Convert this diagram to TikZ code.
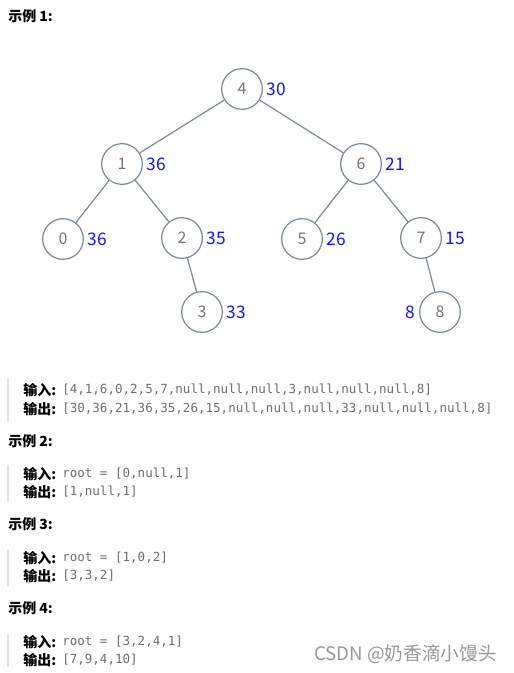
\documentclass[tikz,border=0pt]{standalone}
\usepackage{fontspec}
\setmainfont{Noto Sans CJK SC}
\setmonofont{DejaVu Sans Mono}
\usetikzlibrary{positioning}

\definecolor{edgecol}{RGB}{120,136,148}
\definecolor{numgray}{RGB}{115,115,115}
\definecolor{valblue}{RGB}{20,20,245}
\definecolor{codegray}{RGB}{108,108,118}
\definecolor{barcol}{RGB}{226,226,226}
\definecolor{markgray}{RGB}{150,150,150}

\tikzset{
	treenode/.style = {circle, draw = edgecol, line width = 0.9pt, minimum size = 30.5pt,
		inner sep = 0pt, text = numgray, font = \fontsize{12}{14}\selectfont},
	valtext/.style = {inner sep = 0pt, text = valblue, font = \fontsize{13}{15}\selectfont},
	edge/.style = {draw = edgecol, line width = 0.9pt},
	headtext/.style = {anchor = west, inner sep = 0pt, font = \fontsize{10.5}{12}\bfseries},
	keytext/.style = {anchor = west, inner sep = 0pt, font = \fontsize{10.5}{12}\bfseries},
	codetext/.style = {anchor = west, inner sep = 0pt, text = codegray, font = \fontsize{9.4}{11}\ttfamily},
	quotebar/.style = {draw = barcol, line width = 1.5pt}
}

\begin{document}
\begin{tikzpicture}[x = 0.75pt, y = -0.75pt]

	\useasboundingbox (0,0) rectangle (513,673);

	% example 1 tree
	\node [headtext] (h1) at (8,16) {示例 1:};

	\node [treenode] (n4) at (242,89) {4};
	\node [treenode] (n1) at (122,164) {1};
	\node [treenode] (n6) at (361,164) {6};
	\node [treenode] (n0) at (63,239) {0};
	\node [treenode] (n2) at (182,238) {2};
	\node [treenode] (n5) at (302,239) {5};
	\node [treenode] (n7) at (421,238) {7};
	\node [treenode] (n3) at (202,312) {3};
	\node [treenode] (n8) at (440,312) {8};

	\draw [edge] (n4) -- (n1);
	\draw [edge] (n4) -- (n6);
	\draw [edge] (n1) -- (n0);
	\draw [edge] (n1) -- (n2);
	\draw [edge] (n6) -- (n5);
	\draw [edge] (n6) -- (n7);
	\draw [edge] (n2) -- (n3);
	\draw [edge] (n7) -- (n8);

	\node [valtext, right = 2.5pt of n4] (v4) {30};
	\node [valtext, right = 2.5pt of n1] (v1) {36};
	\node [valtext, right = 2.5pt of n6] (v6) {21};
	\node [valtext, right = 2.5pt of n0] (v0) {36};
	\node [valtext, right = 2.5pt of n2] (v2) {35};
	\node [valtext, right = 2.5pt of n5] (v5) {26};
	\node [valtext, right = 2.5pt of n7] (v7) {15};
	\node [valtext, right = 2.5pt of n3] (v3) {33};
	\node [valtext, left = 3pt of n8] (v8) {8};

	% example 1 text
	\draw [quotebar] (8,378) -- (8,422);
	\node [keytext] (k1a) at (23,390) {输入:};
	\node [codetext] (c1a) at (62,390) {[4,1,6,0,2,5,7,null,null,null,3,null,null,null,8]};
	\node [keytext] (k1b) at (23,409) {输出:};
	\node [codetext] (c1b) at (62,409) {[30,36,21,36,35,26,15,null,null,null,33,null,null,null,8]};

	% example 2
	\node [headtext] (h2) at (8,441) {示例 2:};
	\draw [quotebar] (8,465) -- (8,502);
	\node [keytext] (k2a) at (23,474) {输入:};
	\node [codetext] (c2a) at (62,474) {root = [0,null,1]};
	\node [keytext] (k2b) at (23,492) {输出:};
	\node [codetext] (c2b) at (62,492) {[1,null,1]};

	% example 3
	\node [headtext] (h3) at (8,524) {示例 3:};
	\draw [quotebar] (8,550) -- (8,586);
	\node [keytext] (k3a) at (23,558) {输入:};
	\node [codetext] (c3a) at (62,558) {root = [1,0,2]};
	\node [keytext] (k3b) at (23,576) {输出:};
	\node [codetext] (c3b) at (62,576) {[3,3,2]};

	% example 4
	\node [headtext] (h4) at (8,608) {示例 4:};
	\draw [quotebar] (8,634) -- (8,667);
	\node [keytext] (k4a) at (23,642) {输入:};
	\node [codetext] (c4a) at (62,642) {root = [3,2,4,1]};
	\node [keytext] (k4b) at (23,660) {输出:};
	\node [codetext] (c4b) at (62,660) {[7,9,4,10]};

	\node [anchor = east, inner sep = 0pt, text = markgray, font = \fontsize{14}{16}\selectfont] (mark) at (497,654) {CSDN @奶香滴小馒头};

\end{tikzpicture}
\end{document}
